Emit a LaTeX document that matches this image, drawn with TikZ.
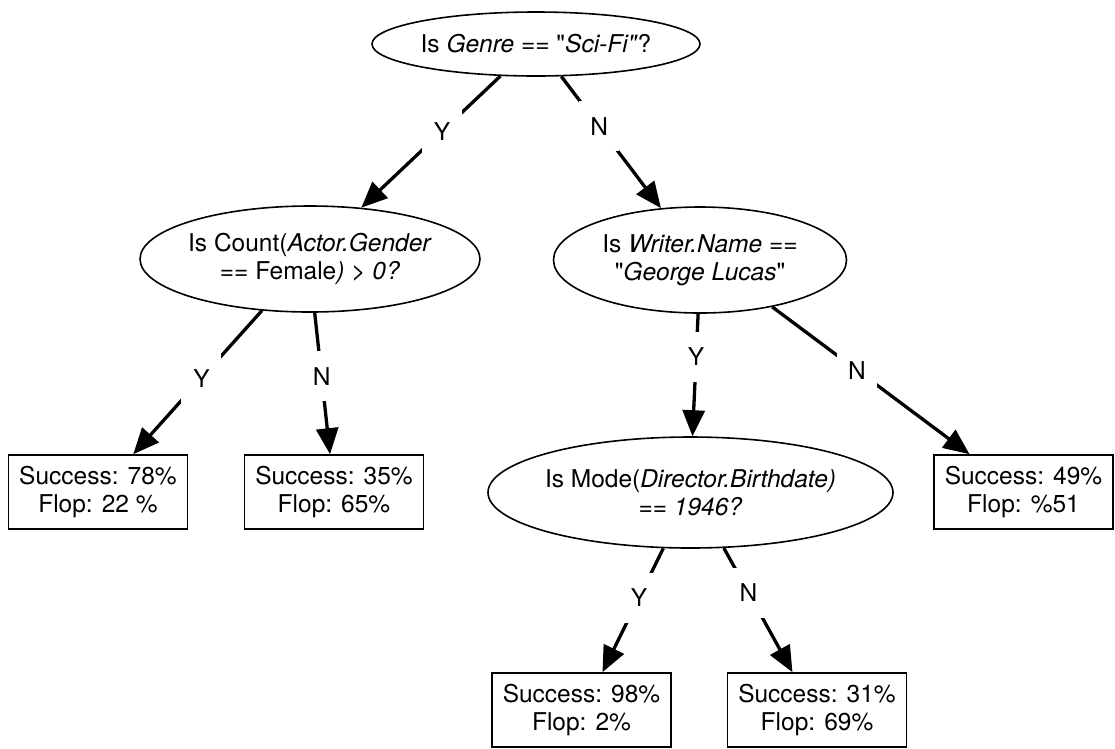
\documentclass[tikz,border=0pt]{standalone}
\usepackage{fontspec}
% no TeX mapping, so that " stays a straight quote
\setmainfont{TeX Gyre Heros}[Ligatures=TeXOff]
\usetikzlibrary{arrows.meta,shapes.geometric}
\begin{document}
\begin{tikzpicture}[x=1pt,y=-1pt,
  every node/.style={font=\fontsize{24.5}{27.5}\selectfont},
  question/.style={ellipse, draw, line width=1.6pt, inner sep=0pt},
  leaf/.style={rectangle, draw, line width=1.6pt, minimum width=179pt,
    minimum height=74pt, align=center, inner sep=0pt},
  branch/.style={line width=3.3pt, -{Triangle[length=26pt,width=22pt]}},
  answer/.style={fill=white, inner sep=0pt, minimum width=40pt, minimum height=50pt}]
\useasboundingbox (0,0) rectangle (1115,748);

% decision nodes
\node[question, minimum width=328pt, minimum height=64pt,
  label={[align=center]center:{Is \textit{Genre} == "\textit{Sci-Fi"}?}}] (genre) at (536,44) {};
\node[question, minimum width=340pt, minimum height=106pt,
  label={[align=center]center:{Is Count(\textit{Actor.Gender}\\== Female\textit{) > 0?}}}] (count) at (310,259) {};
\node[question, minimum width=293pt, minimum height=106pt,
  label={[align=center]center:{Is \textit{Writer.Name} ==\\"\textit{George Lucas}"}}] (writer) at (700,260) {};
\node[question, minimum width=405pt, minimum height=111pt,
  label={[align=center]center:{Is Mode(\textit{Director.Birthdate)}\\== \textit{1946?}}}] (mode) at (690.5,492.5) {};

% outcomes
\node[leaf] (leafA) at (98,492) {Success: 78\%\\Flop: 22 \%};
\node[leaf] (leafB) at (334,492) {Success: 35\%\\Flop: 65\%};
\node[leaf] (leafC) at (1023.5,492) {Success: 49\%\\Flop: \%51};
\node[leaf] (leafD) at (581.5,710) {Success: 98\%\\Flop: 2\%};
\node[leaf] (leafE) at (817,710) {Success: 31\%\\Flop: 69\%};

% branches
\draw[branch] (genre.222) -- node[answer, pos=0.42] {Y} (count.45);
\draw[branch] (genre.308) -- node[answer, pos=0.38] {N} (writer.127);
\draw[branch] (count.227) -- node[answer, pos=0.47] {Y} (leafA.47);
\draw[branch] (count.275) -- node[answer, pos=0.45] {N} (leafB.96);
\draw[branch] (writer.268) -- node[answer, pos=0.35] {Y} (mode.88);
\draw[branch] (writer.327) -- node[answer, pos=0.43] {N} (leafC.145);
\draw[branch] (mode.244) -- node[answer, pos=0.40] {Y} (leafD.61);
\draw[branch] (mode.301) -- node[answer, pos=0.36] {N} (leafE.123);
\end{tikzpicture}
\end{document}
